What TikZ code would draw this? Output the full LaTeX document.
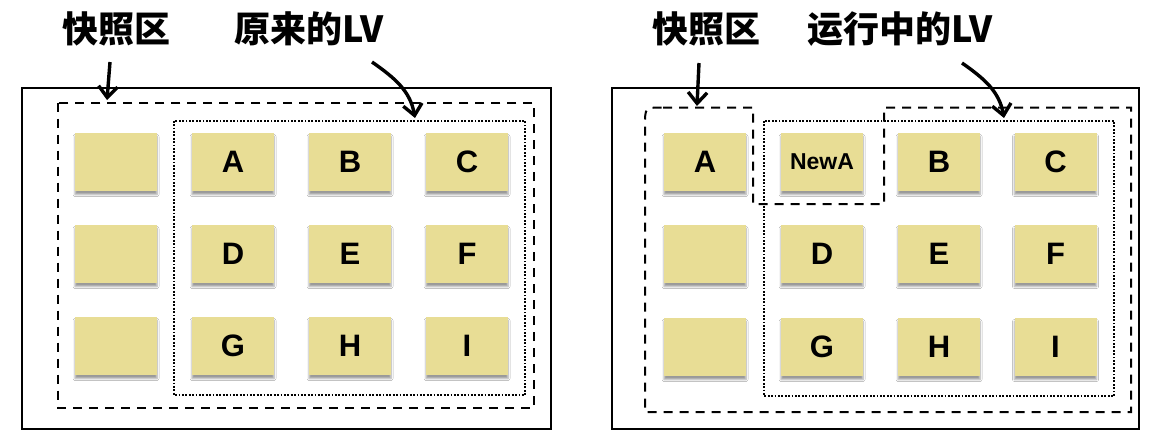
\documentclass[tikz,border=0pt]{standalone}
\usepackage{fontspec}
\usepackage{tikz}
\usetikzlibrary{arrows.meta}
\usetikzlibrary{shadows.blur}
\newfontfamily\cjk{Noto Sans CJK SC}
\newfontfamily\boxfont{Liberation Sans}
\definecolor{sand}{RGB}{232,221,149}

\begin{document}
\begin{tikzpicture}[x=1pt,y=-1pt,
    cell/.style={rectangle,fill=sand,minimum width=82pt,minimum height=58pt,inner sep=0pt,
      font=\boxfont\bfseries\fontsize{31}{31}\selectfont,
      blur shadow={shadow xshift=0pt,shadow yshift=-3.5pt,shadow blur radius=2pt,shadow opacity=40}},
    title/.style={font=\cjk\bfseries\fontsize{36}{36}\selectfont,inner sep=0pt},
    frame/.style={draw,line width=2pt},
    snapzone/.style={draw,line width=2pt,dash pattern=on 9pt off 7pt},
    lvzone/.style={draw,line width=2pt,dash pattern=on 1.8pt off 1.6pt},
    pointer/.style={line width=3.4pt,-{Straight Barb[length=11pt,width=19pt]}}]

        \useasboundingbox[fill=white] (0,0) rectangle (1152,442);

        % left: before the snapshot is merged
        \node[title]         (snapL) at (116,29)      {快照区};
        \node[title]         (lvL)   at (309,29)      {原来的LV};

        \draw[frame]    (22.3,87.7) rectangle (550.7,429);
        \draw[snapzone] (58.3,102.7) rectangle (534,408);
        \draw[lvzone]   (174.3,120.7) rectangle (525,395.3);

        \node[cell]          (sl1) at (116,162)       {};
        \node[cell]          (sl2) at (116,254)       {};
        \node[cell]          (sl3) at (116,346)       {};
        \node[cell]          (la)  at (233,162)       {A};
        \node[cell]          (lb)  at (350,162)       {B};
        \node[cell]          (lc)  at (467,162)       {C};
        \node[cell]          (ld)  at (233,254)       {D};
        \node[cell]          (le)  at (350,254)       {E};
        \node[cell]          (lf)  at (467,254)       {F};
        \node[cell]          (lg)  at (233,346)       {G};
        \node[cell]          (lh)  at (350,346)       {H};
        \node[cell]          (li)  at (467,346)       {I};

        \coordinate (snapLtail) at (110,62);
        \coordinate (snapLtip)  at (107,100);
        \coordinate (lvLtail)   at (372,62);
        \coordinate (lvLtip)    at (415,118);
        \draw[pointer] (snapLtail) -- (snapLtip);
        \draw[pointer] (lvLtail) to[out=-35,in=100] (lvLtip);

        % right: the running LV
        \node[title]         (snapR) at (706,29)      {快照区};
        \node[title]         (lvR)   at (900,29)      {运行中的LV};

        \draw[frame]    (611.7,88.3) rectangle (1139.3,429);
        \draw[snapzone] (663,107.5) -- (753,107.5) -- (753,204) -- (884,204) -- (884,107.5)
                        -- (1131,107.5) -- (1131,412) -- (645,412) -- (645,125)
                        .. controls (645,107.5) .. (663,107.5);
        \draw[lvzone]   (764,121) rectangle (1114.3,396);

        \node[cell]          (ra)  at (705,162)       {A};
        \node[cell,font=\boxfont\bfseries\fontsize{23}{23}\selectfont]
                             (rna) at (822,162)       {NewA};
        \node[cell]          (rb)  at (939,162)       {B};
        \node[cell]          (rc)  at (1055.5,162)    {C};
        \node[cell]          (sr2) at (705,254)       {};
        \node[cell]          (rd)  at (822,254)       {D};
        \node[cell]          (re)  at (939,254)       {E};
        \node[cell]          (rf)  at (1055.5,254)    {F};
        \node[cell]          (sr3) at (705,347)       {};
        \node[cell]          (rg)  at (822,347)       {G};
        \node[cell]          (rh)  at (939,347)       {H};
        \node[cell]          (ri)  at (1055.5,347)    {I};

        \coordinate (snapRtail) at (699,63);
        \coordinate (snapRtip)  at (697,106);
        \coordinate (lvRtail)   at (962,63);
        \coordinate (lvRtip)    at (1004,118);
        \draw[pointer] (snapRtail) -- (snapRtip);
        \draw[pointer] (lvRtail) to[out=-35,in=100] (lvRtip);
      \end{tikzpicture}
\end{document}
